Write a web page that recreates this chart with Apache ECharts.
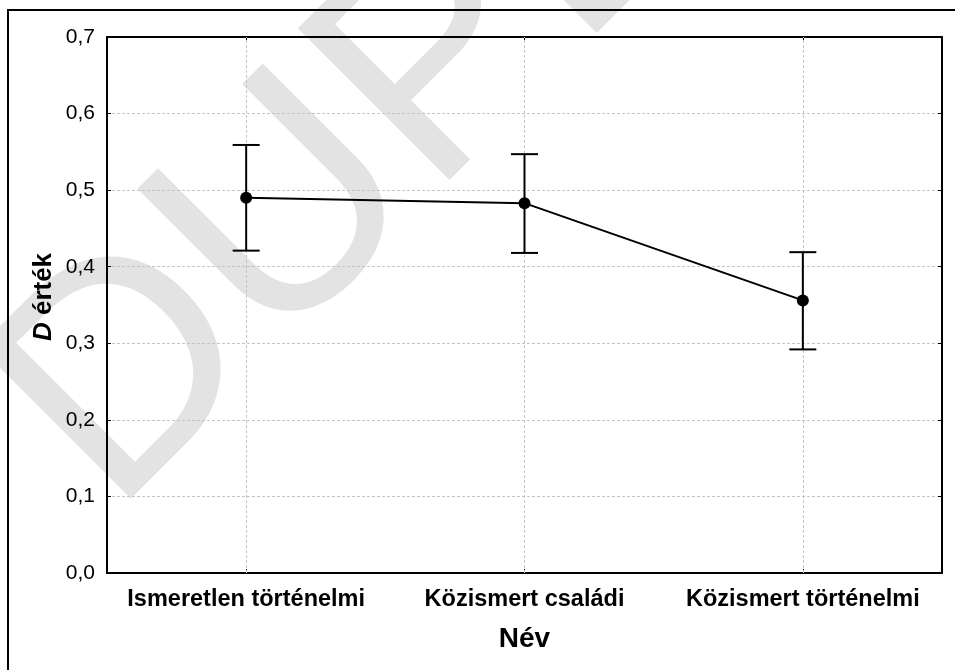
<!DOCTYPE html>
<html>
<head>
<meta charset="utf-8">
<script src="https://cdn.jsdelivr.net/npm/echarts@6/dist/echarts.min.js"></script>
<style>
  html, body { margin: 0; padding: 0; background: #fff; }
  #chart { width: 955px; height: 670px; }
</style>
</head>
<body>
<div id="chart"></div>
<script>
// ---- data ----
const categories = ['Ismeretlen történelmi', 'Közismert családi', 'Közismert történelmi'];
const meanValues = [0.490, 0.483, 0.356];
const upperValues = [0.559, 0.547, 0.419];
const lowerValues = [0.421, 0.418, 0.292];
const yMin = 0, yMax = 0.7, yStep = 0.1;
const xTitle = 'Név';
const yTitleItalic = 'D';
const yTitleRest = ' érték';
const watermark = 'DUPLIKÁTUM';

const FONT = '"Liberation Sans", Arial, sans-serif';
const chart = echarts.init(document.getElementById('chart'), null, { renderer: 'canvas' });

const errorData = categories.map((c, i) => [i, lowerValues[i], upperValues[i]]);

const option = {
  backgroundColor: '#ffffff',
  animation: false,
  grid: { left: 107, right: 13, top: 37, bottom: 97, containLabel: false },
  graphic: [
    {
      type: 'text', x: 52, y: 456, rotation: Math.PI / 4, z: -10, silent: true,
      style: {
        text: watermark, fontSize: 312, fontFamily: FONT, fontWeight: 'normal',
        fill: '#e3e3e3', align: 'left', verticalAlign: 'middle'
      }
    },
    {
      type: 'rect', z: 100, silent: true,
      shape: { x: 8, y: 10, width: 1000, height: 700 },
      style: { fill: null, stroke: '#000', lineWidth: 2 }
    },
    {
      type: 'text', x: 44, y: 297, rotation: Math.PI / 2, z: 100,
      style: {
        text: '{i|' + yTitleItalic + '}{b|' + yTitleRest + '}',
        align: 'center', verticalAlign: 'middle',
        fontSize: 26, fontWeight: 'bold', fontFamily: FONT, fill: '#000',
        rich: {
          i: { fontStyle: 'italic', fontWeight: 'bold', fontSize: 26, fontFamily: FONT, fill: '#000' },
          b: { fontWeight: 'bold', fontSize: 26, fontFamily: FONT, fill: '#000' }
        }
      }
    }
  ],
  xAxis: [
    {
      type: 'category', data: categories, position: 'bottom', boundaryGap: true,
      name: xTitle, nameLocation: 'middle', nameGap: 52,
      nameTextStyle: { fontSize: 28, fontWeight: 'bold', fontFamily: FONT, color: '#000' },
      axisLine: { show: true, onZero: false, lineStyle: { color: '#000', width: 2 } },
      axisTick: { show: true, inside: true, alignWithLabel: true, length: 4, lineStyle: { color: '#000', width: 1 } },
      axisLabel: { show: true, margin: 15, fontSize: 23.5, fontWeight: 'bold', fontFamily: FONT, color: '#000', interval: 0 },
      splitLine: { show: false }
    },
    {
      type: 'category', data: categories, position: 'top', boundaryGap: true,
      axisLine: { show: true, onZero: false, lineStyle: { color: '#000', width: 2 } },
      axisTick: { show: true, inside: true, alignWithLabel: true, length: 4, lineStyle: { color: '#000', width: 1 } },
      axisLabel: { show: false },
      splitLine: { show: false }
    }
  ],
  yAxis: [
    {
      type: 'value', min: yMin, max: yMax, interval: yStep, position: 'left',
      axisLine: { show: true, lineStyle: { color: '#000', width: 2 } },
      axisTick: { show: true, inside: true, length: 4, lineStyle: { color: '#000', width: 1 } },
      axisLabel: {
        show: true, margin: 12, fontSize: 21, fontFamily: FONT, color: '#000',
        formatter: v => v.toFixed(1).replace('.', ',')
      },
      splitLine: { show: true, lineStyle: { color: '#c4c4c4', width: 1, type: [3, 2] } }
    },
    {
      type: 'value', min: yMin, max: yMax, interval: yStep, position: 'right',
      axisLine: { show: true, lineStyle: { color: '#000', width: 2 } },
      axisTick: { show: true, inside: true, length: 4, lineStyle: { color: '#000', width: 1 } },
      axisLabel: { show: false },
      splitLine: { show: false }
    }
  ],
  series: [
    {
      type: 'line', name: 'grid-v', xAxisIndex: 0, yAxisIndex: 0, data: [], z: 1,
      markLine: {
        silent: true, symbol: 'none', z: 1, animation: false,
        label: { show: false },
        lineStyle: { color: '#c4c4c4', width: 1, type: [3, 2] },
        data: categories.map(c => ({ xAxis: c }))
      }
    },
    {
      type: 'custom', name: 'error', xAxisIndex: 0, yAxisIndex: 0, z: 5,
      data: errorData,
      encode: { x: 0, y: [1, 2] },
      renderItem: function (params, api) {
        const idx = api.value(0);
        const lo = api.coord([idx, api.value(1)]);
        const hi = api.coord([idx, api.value(2)]);
        const half = 13.5;
        const st = { stroke: '#000', lineWidth: 2 };
        return {
          type: 'group',
          children: [
            { type: 'line', shape: { x1: lo[0], y1: lo[1], x2: hi[0], y2: hi[1] }, style: st },
            { type: 'line', shape: { x1: lo[0] - half, y1: lo[1], x2: lo[0] + half, y2: lo[1] }, style: st },
            { type: 'line', shape: { x1: hi[0] - half, y1: hi[1], x2: hi[0] + half, y2: hi[1] }, style: st }
          ]
        };
      }
    },
    {
      type: 'line', name: 'mean', xAxisIndex: 0, yAxisIndex: 0, z: 6,
      data: meanValues,
      symbol: 'circle', symbolSize: 12,
      itemStyle: { color: '#000' },
      lineStyle: { color: '#000', width: 2 }
    }
  ]
};
chart.setOption(option);
</script>
</body>
</html>
